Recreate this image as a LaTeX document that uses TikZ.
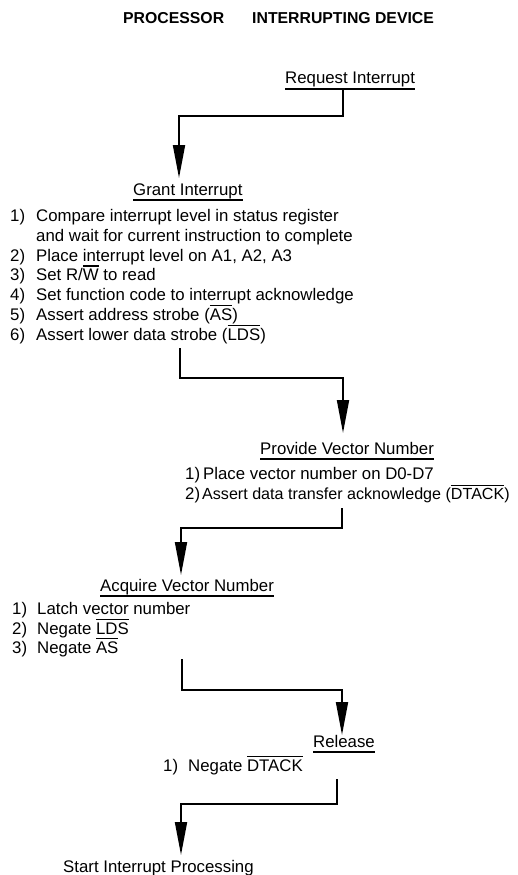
\documentclass[tikz,border=0pt]{standalone}
\usepackage{fontspec}
\setmainfont{Liberation Sans}
\usetikzlibrary{arrows.meta}
\newcommand{\ovl}[1]{\setbox0\hbox{#1}\rlap{\rule[\dimexpr\ht0+1.8pt\relax]{\wd0}{1.2pt}}\box0\relax}
\begin{document}
\begin{tikzpicture}[x=1pt,y=-1pt,
  txt/.style={anchor=base west, inner sep=0pt, font=\fontsize{16.8}{20}\selectfont},
  ttl/.style={anchor=base west, inner sep=0pt, font=\fontsize{15.8}{19}\selectfont\bfseries},
  flow/.style={line width=1.8pt, -{Triangle[length=33pt,width=12pt]}},
  uline/.style={line width=1.4pt}]
\useasboundingbox (0,0) rectangle (517,875);

% title
\node[ttl] (proc) at (123,24) {PROCESSOR};
\node[ttl] (dev) at (252,24) {INTERRUPTING DEVICE};

% request
\node[txt] (req) at (285,84) {Request Interrupt};

% grant
\node[txt] (grant) at (133,195) {Grant Interrupt};
\node[txt] (g1n) at (10,221) {1)};
\node[txt] (g1) at (36,221) {Compare interrupt level in status register};
\node[txt] (g1b) at (36,241) {and wait for current instruction to complete};
\node[txt] (g2n) at (10,261) {2)};
\node[txt] (g2) at (36,261) {Place interrupt level on A1, A2, A3};
\node[txt] (g3n) at (10,280) {3)};
\node[txt] (g3) at (36,280) {Set R/\ovl{W} to read};
\node[txt] (g4n) at (10,300) {4)};
\node[txt] (g4) at (36,300) {Set function code to interrupt acknowledge};
\node[txt] (g5n) at (10,320) {5)};
\node[txt] (g5) at (36,320) {Assert address strobe (\ovl{AS})};
\node[txt] (g6n) at (10,340) {6)};
\node[txt] (g6) at (36,340) {Assert lower data strobe (\ovl{LDS})};

% provide
\node[txt] (prov) at (260,454) {Provide Vector Number};
\node[txt] (p1n) at (185,479) {1)};
\node[txt] (p1) at (203,479) {Place vector number on D0-D7};
\node[txt] (p2n) at (185,499) {2)};
\node[txt, font=\fontsize{16.1}{20}\selectfont] (p2) at (202,499) {Assert data transfer acknowledge (\ovl{DTACK})};

% acquire
\node[txt] (acq) at (100,591) {Acquire Vector Number};
\node[txt] (a1n) at (12,614) {1)};
\node[txt] (a1) at (37,614) {Latch vector number};
\node[txt] (a2n) at (12,634) {2)};
\node[txt] (a2) at (37,634) {Negate \ovl{LDS}};
\node[txt] (a3n) at (12,653) {3)};
\node[txt] (a3) at (37,653) {Negate \ovl{AS}};

% release
\node[txt] (rel) at (313,747) {Release};
\node[txt] (r1n) at (163,771) {1)};
\node[txt] (r1) at (188,771) {Negate \ovl{DTACK}};

% start
\node[txt] (start) at (63,872) {Start Interrupt Processing};

% underlines
\foreach \n in {req,grant,prov,acq,rel}
  \draw[uline] ([yshift=-5pt]\n.base west) -- ([yshift=-5pt]\n.base east);

% connectors
\coordinate (s1) at (343,89);   \coordinate (b1) at (179,116);  \coordinate (e1) at (179,178);
\coordinate (s2) at (180,348);  \coordinate (b2) at (343,378);  \coordinate (e2) at (343,433);
\coordinate (s3) at (342,508);  \coordinate (b3) at (181,528);  \coordinate (e3) at (181,575);
\coordinate (s4) at (182,659);  \coordinate (b4) at (342,690);  \coordinate (e4) at (342,735);
\coordinate (s5) at (337,779);  \coordinate (b5) at (181,804);  \coordinate (e5) at (181,855);
\draw[flow] (s1) |- (b1) -- (e1);
\draw[flow] (s2) |- (b2) -- (e2);
\draw[flow] (s3) |- (b3) -- (e3);
\draw[flow] (s4) |- (b4) -- (e4);
\draw[flow] (s5) |- (b5) -- (e5);
\end{tikzpicture}
\end{document}
